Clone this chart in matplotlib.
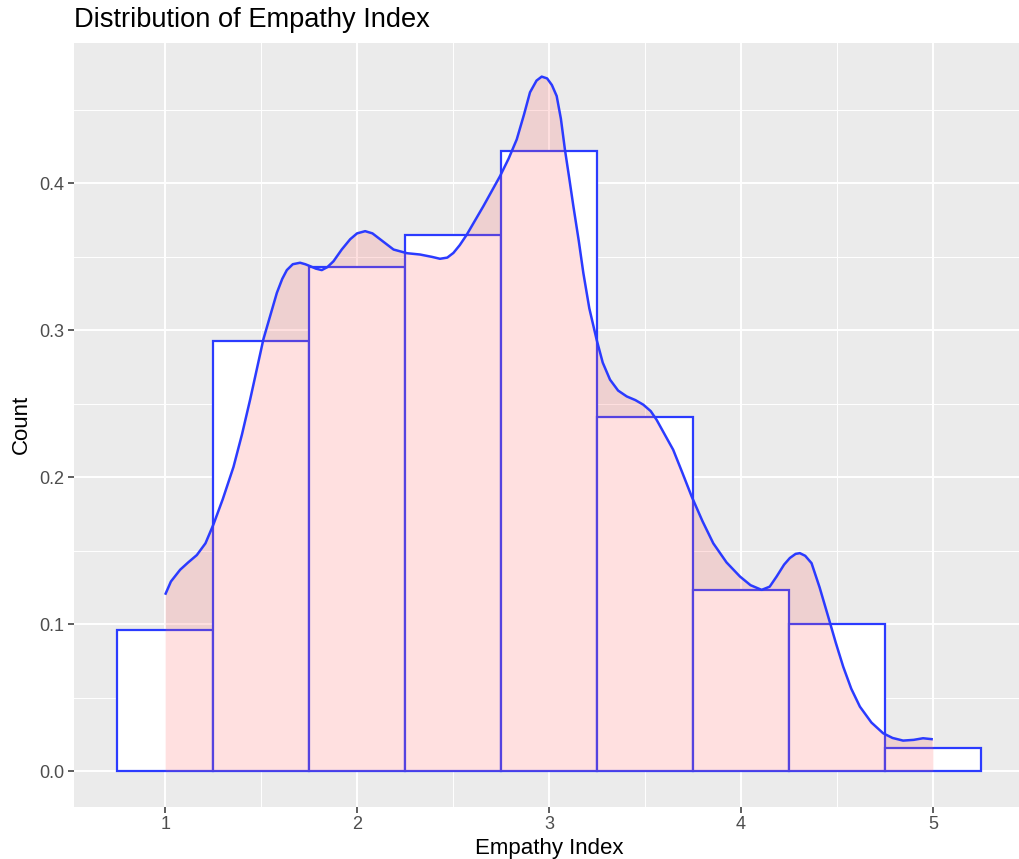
import matplotlib
matplotlib.use("Agg")
import matplotlib.pyplot as plt
from matplotlib.ticker import FixedLocator

# ---- data ----
bin_centers = [1.0, 1.5, 2.0, 2.5, 3.0, 3.5, 4.0, 4.5, 5.0]
bin_heights = [0.096, 0.293, 0.343, 0.365, 0.422, 0.241, 0.123, 0.100, 0.0157]
bin_width = 0.5

dens_x = [1.000, 1.030, 1.078, 1.120, 1.165, 1.210, 1.252, 1.300, 1.356, 1.400,
          1.443, 1.512, 1.582, 1.610, 1.634, 1.665, 1.703, 1.730,
          1.755, 1.785, 1.816, 1.845, 1.877, 1.920, 1.964, 2.000, 2.042, 2.080,
          2.120, 2.190, 2.260, 2.328, 2.390, 2.432, 2.470, 2.502,
          2.535, 2.571, 2.658, 2.745, 2.790, 2.832, 2.870, 2.901, 2.935, 2.962,
          2.990, 3.015, 3.040, 3.062, 3.083, 3.105, 3.127, 3.155, 3.179, 3.210,
          3.248, 3.280, 3.318, 3.360, 3.405, 3.450, 3.491, 3.530, 3.561, 3.613,
          3.647, 3.695, 3.743, 3.800, 3.856, 3.925, 3.995, 4.050,
          4.108, 4.150, 4.186, 4.225, 4.255, 4.285, 4.307, 4.335, 4.368, 4.410,
          4.455, 4.495, 4.533, 4.575, 4.620, 4.680, 4.741, 4.790, 4.845, 4.900,
          4.949, 5.000]
dens_y = [0.120, 0.129, 0.137, 0.142, 0.147, 0.155, 0.168, 0.185, 0.207, 0.229,
          0.253, 0.294, 0.3255, 0.335, 0.341, 0.345, 0.346, 0.345,
          0.3437, 0.3420, 0.341, 0.343, 0.347, 0.355, 0.362, 0.366, 0.3675, 0.366,
          0.362, 0.355, 0.3525, 0.3516, 0.3500, 0.3487, 0.3495, 0.3527,
          0.3580, 0.365, 0.3845, 0.405, 0.417, 0.430, 0.447, 0.462, 0.470, 0.4727,
          0.4715, 0.4670, 0.4595, 0.4440, 0.423, 0.4040, 0.3845, 0.3610, 0.339, 0.3150,
          0.2937, 0.2780, 0.2664, 0.2590, 0.255, 0.2525, 0.2494, 0.2450, 0.239, 0.2267,
          0.2187, 0.2030, 0.187, 0.1700, 0.155, 0.1420, 0.1324, 0.1265,
          0.1233, 0.1255, 0.1324, 0.1405, 0.145, 0.1478, 0.1483, 0.1465, 0.1415, 0.1250,
          0.105, 0.0870, 0.071, 0.0560, 0.0438, 0.0330, 0.0257, 0.0225, 0.0207, 0.0212,
          0.0223, 0.0216]

x_ticks = [1, 2, 3, 4, 5]
y_ticks = [0.0, 0.1, 0.2, 0.3, 0.4]
title = "Distribution of Empathy Index"
xlabel = "Empathy Index"
ylabel = "Count"

# ---- style ----
plt.rcParams['font.family'] = ['Liberation Sans', 'DejaVu Sans']
W, H = 1020, 859
fig = plt.figure(figsize=(W / 100, H / 100), dpi=100)
fig.patch.set_facecolor('white')

left, right, top, bottom = 74, 1024, 42.7, 806.7
ax = fig.add_axes([left / W, (H - bottom) / H, (right - left) / W, (bottom - top) / H])
ax.set_facecolor('#EBEBEB')

blue = '#2b3bff'

ax.bar(bin_centers, bin_heights, width=bin_width, color='white',
       edgecolor=blue, linewidth=1.6, zorder=3)
ax.fill_between(dens_x, 0, dens_y, color='#FF6666', alpha=0.2, linewidth=0, zorder=4)
ax.plot(dens_x, dens_y, color=blue, linewidth=1.8, zorder=5,
        solid_joinstyle='round', solid_capstyle='butt')

ax.set_xlim(0.525, 5.475)
ax.set_ylim(-0.0243, 0.4958)

ax.xaxis.set_major_locator(FixedLocator(x_ticks))
ax.yaxis.set_major_locator(FixedLocator(y_ticks))
ax.xaxis.set_minor_locator(FixedLocator([1.5, 2.5, 3.5, 4.5]))
ax.yaxis.set_minor_locator(FixedLocator([0.05, 0.15, 0.25, 0.35, 0.45]))
ax.set_xticklabels([str(t) for t in x_ticks])
ax.set_yticklabels([f"{t:.1f}" for t in y_ticks])

ax.grid(which='major', color='white', linewidth=1.4, zorder=0)
ax.grid(which='minor', color='white', linewidth=0.7, zorder=0)
ax.set_axisbelow(True)
for s in ax.spines.values():
    s.set_visible(False)

ax.tick_params(axis='both', which='major', length=4, width=1.1, color='#333333',
               labelcolor='#4D4D4D', labelsize=13, pad=3)
ax.tick_params(axis='both', which='minor', length=0)

ax.set_xlabel(xlabel, fontsize=16, color='black', labelpad=3)
ax.set_ylabel(ylabel, fontsize=16, color='black', labelpad=5)
fig.text(left / W, 1 - 20 / H, title, fontsize=19.6, color='black', ha='left', va='center')

fig.savefig('out.png', dpi=100)
